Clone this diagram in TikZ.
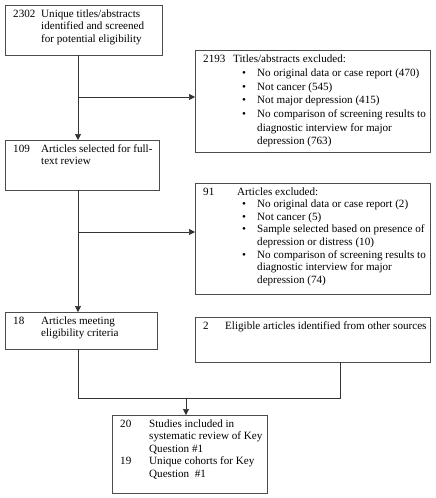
\documentclass[tikz,border=0pt]{standalone}
\usepackage{fontspec}
\setmainfont{Liberation Serif}
\usetikzlibrary{arrows.meta}

% number column with hanging text
\newcommand{\numitem}[3]{{\leftskip=6pt\hangindent=#1\hangafter=1\noindent\makebox[#1][l]{#2}\strut#3\par}}
% bullet line under the text column
\newcommand{\bulitem}[1]{{\leftskip=36pt\hangindent=24pt\hangafter=1\noindent\makebox[24pt][l]{\hspace{9pt}\textbullet}\strut#1\par}}
\newcommand{\boxtext}[3]{\parbox[t][#2][t]{#1}{\raggedright#3}}

\begin{document}
\begin{tikzpicture}[x=1pt,y=-1pt,
	flow/.style={draw=black!70,anchor=north west,inner xsep=2pt,inner ysep=3pt,
		font=\fontsize{11.1}{12.6}\selectfont},
	link/.style={draw=black!80,line width=0.6pt},
	arrow/.style={link,-{Triangle[length=6pt,width=6pt]}}]
	\useasboundingbox (0,0) rectangle (436,498);

	\node[flow] (id_1) at (5,5) {\boxtext{153pt}{44pt}{%
		\numitem{28pt}{2302}{Unique titles/abstracts\newline identified and screened\newline for potential eligibility}}};
	\node[flow,font=\fontsize{11.1}{13.7}\selectfont] (ex_1) at (195,50) {\boxtext{231pt}{96pt}{%
		\numitem{30pt}{2193}{Titles/abstracts excluded:}
		\bulitem{No original data or case report (470)}
		\bulitem{Not cancer (545)}
		\bulitem{Not major depression (415)}
		\bulitem{No comparison of screening results to\newline diagnostic interview for major\newline depression (763)}}};
	\node[flow] (sel_1) at (5,140) {\boxtext{150pt}{44pt}{%
		\numitem{28pt}{109}{Articles selected for full-\newline text review}}};
	\node[flow] (ex_2) at (195,183) {\boxtext{231pt}{105pt}{%
		\numitem{34pt}{91}{Articles excluded:}
		\bulitem{No original data or case report (2)}
		\bulitem{Not cancer (5)}
		\bulitem{Sample selected based on presence of\newline depression or distress (10)}
		\bulitem{No comparison of screening results to\newline diagnostic interview for major\newline depression (74)}}};
	\node[flow] (elig) at (5,312) {\boxtext{148pt}{31pt}{%
		\numitem{28pt}{18}{Articles meeting\newline eligibility criteria}}};
	\node[flow] (other) at (195,317) {\boxtext{231pt}{39pt}{%
		\numitem{22pt}{2}{\mbox{Eligible articles identified from other sources}}}};
	\node[flow] (incl) at (112,415) {\boxtext{151pt}{72pt}{%
		\numitem{29pt}{20}{Studies included in\newline systematic review of Key\newline Question \#1}
		\numitem{29pt}{19}{Unique cohorts for Key\newline Question~ \#1}}};

	% branch points
	\coordinate (trunk) at (78,0);
	\coordinate (br_1) at (78,97);
	\coordinate (br_2) at (78,232);
	\coordinate (mg_r) at (340,398);
	\coordinate (mg_c) at (186,398);

	\draw[arrow] (id_1.south -| trunk) -- (sel_1.north -| trunk);
	\draw[arrow] (br_1) -- (br_1 -| ex_1.west);
	\draw[arrow] (sel_1.south -| trunk) -- (elig.north -| trunk);
	\draw[arrow] (br_2) -- (br_2 -| ex_2.west);
	\draw[link] (elig.south -| trunk) |- (mg_r) -- (mg_r |- other.south);
	\draw[arrow] (mg_c) -- (mg_c |- incl.north);
\end{tikzpicture}
\end{document}
